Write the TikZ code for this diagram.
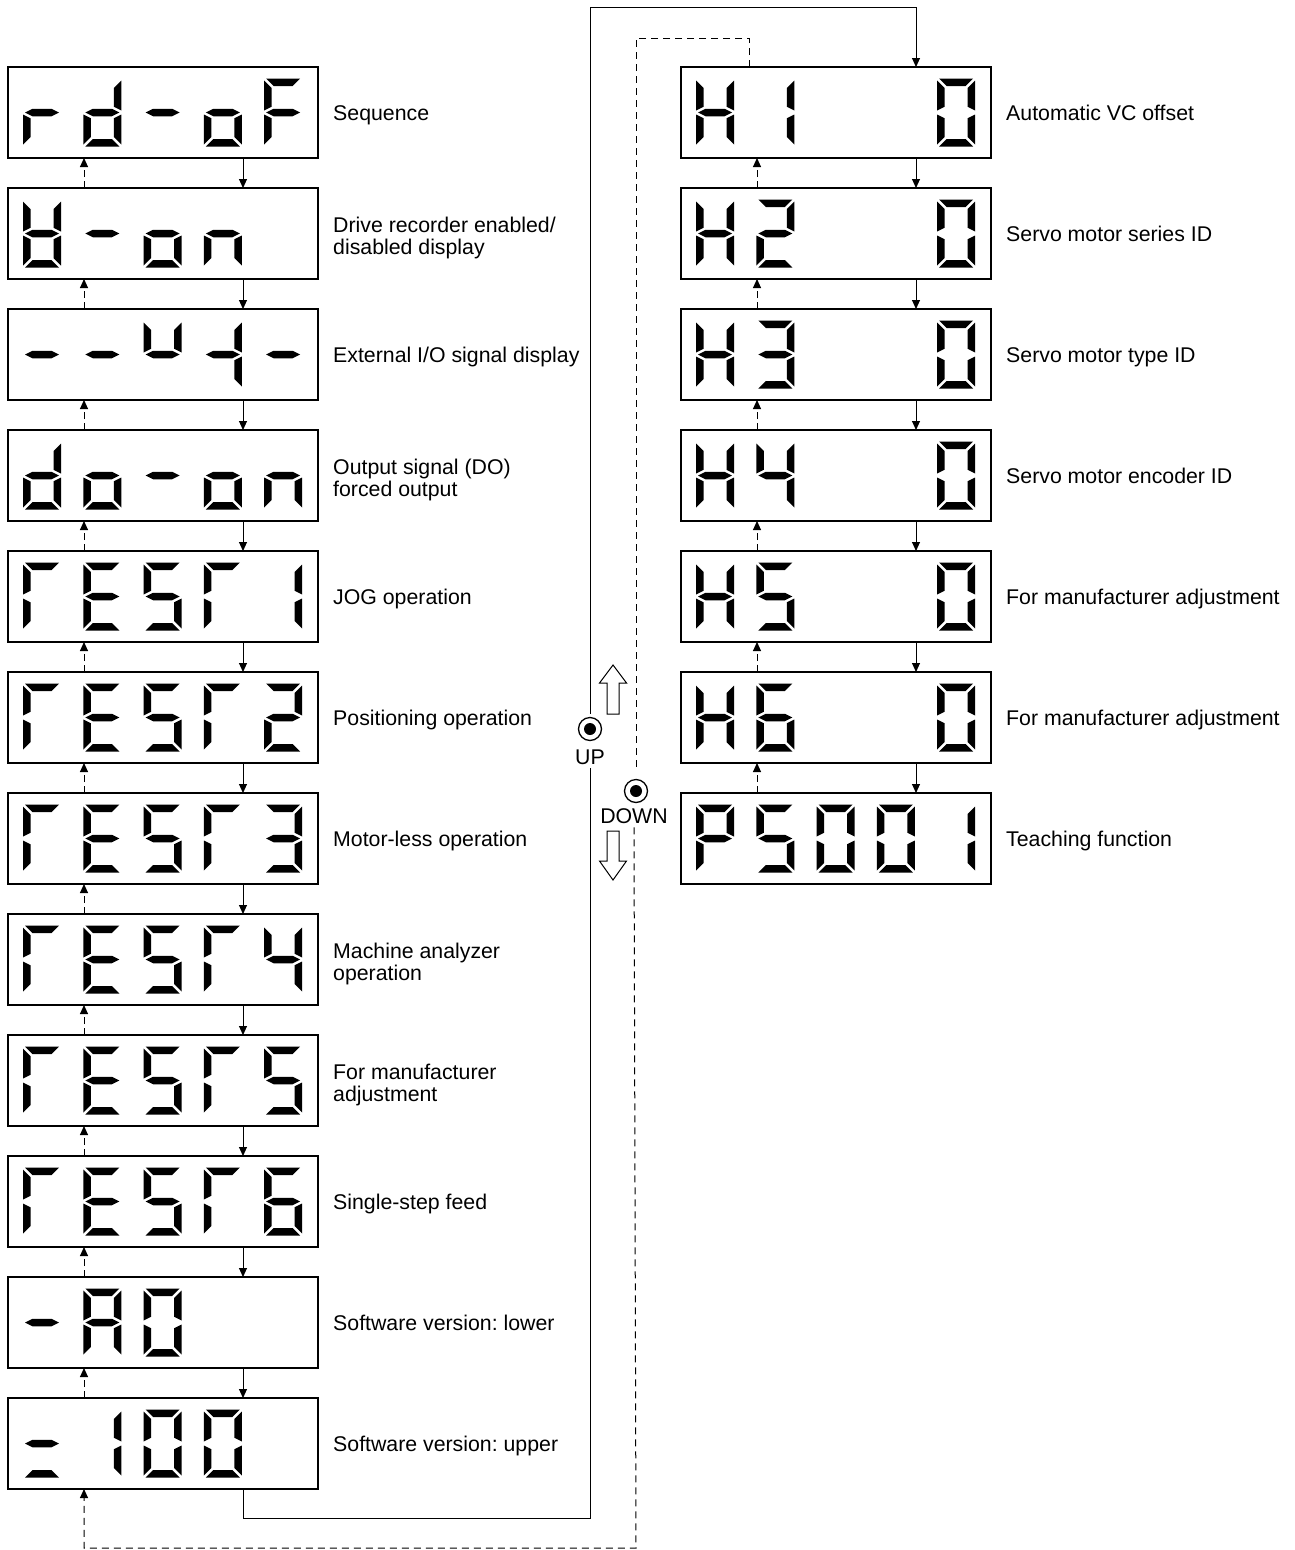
\documentclass[tikz,border=0pt]{standalone}
\usepackage{fontspec}
\setmainfont{Liberation Sans}
\frenchspacing
\usetikzlibrary{arrows.meta}
% seven-segment pieces, digit cell 38 x 68, y downwards
\newcommand{\SSa}{\fill (2,0)--(36,0)--(28.5,7.5)--(9.5,7.5)--cycle;}
\newcommand{\SSb}{\fill (38,2)--(30.5,9.5)--(30.5,28.25)--(38,32)--cycle;}
\newcommand{\SSc}{\fill (38,36)--(30.5,39.75)--(30.5,58.5)--(38,66)--cycle;}
\newcommand{\SSd}{\fill (2,68)--(36,68)--(28.5,60.5)--(9.5,60.5)--cycle;}
\newcommand{\SSe}{\fill (0,36)--(7.5,39.75)--(7.5,58.5)--(0,66)--cycle;}
\newcommand{\SSf}{\fill (0,2)--(7.5,9.5)--(7.5,28.25)--(0,32)--cycle;}
\newcommand{\SSg}{\fill (2,34)--(9.5,30.25)--(28.5,30.25)--(36,34)--(28.5,37.75)--(9.5,37.75)--cycle;}
\newcommand{\dig}[4]{\begin{scope}[shift={({#1+15+60.3*#3},{#2+11.5})}]\foreach \s in {#4}{\csname SS\s\endcsname}\end{scope}}
\begin{document}
\begin{tikzpicture}[x=1pt,y=-1pt,
 dispbox/.style={draw, line width=1.3pt, minimum width=310pt, minimum height=91pt, inner sep=0pt, outer sep=0pt},
 lbl/.style={anchor=base west, align=left, inner sep=0pt, font=\fontsize{21.3}{22.5}\selectfont},
 btnlbl/.style={inner sep=3pt, font=\fontsize{21.3}{23}\selectfont},
 dnarr/.style={line width=1pt, -{Triangle[length=9pt,width=8pt]}},
 uparr/.style={line width=1pt, dash pattern=on 7pt off 4pt, -{Triangle[length=9pt,width=8pt]}},
 longdash/.style={line width=1pt, dash pattern=on 7pt off 5pt},
 btn/.style={circle, draw, line width=1.3pt, minimum size=23pt, inner sep=0pt, outer sep=0pt},
 hollow/.style={draw, line width=1pt, fill=white}]
\useasboundingbox (0,0) rectangle (1294,1550);
% ---- left column boxes
\foreach \k in {1,...,12}{
  \node[dispbox] (L\k) at (163,{67+121*(\k-1)+45.5}) {};
}
% ---- right column boxes
\foreach \k in {1,...,7}{
  \node[dispbox] (R\k) at (836,{67+121*(\k-1)+45.5}) {};
}
% ---- left digits
% rd-oF
\dig{8}{67}{0}{e,g}\dig{8}{67}{1}{b,c,d,e,g}\dig{8}{67}{2}{g}\dig{8}{67}{3}{c,d,e,g}\dig{8}{67}{4}{a,e,f,g}
% d-on
\dig{8}{188}{0}{b,c,d,e,f,g}\dig{8}{188}{1}{g}\dig{8}{188}{2}{c,d,e,g}\dig{8}{188}{3}{c,e,g}
% --u4-
\dig{8}{309}{0}{g}\dig{8}{309}{1}{g}\dig{8}{309}{2}{b,f,g}\dig{8}{309}{3}{b,c,g}\dig{8}{309}{4}{g}
% do-on
\dig{8}{430}{0}{b,c,d,e,g}\dig{8}{430}{1}{c,d,e,g}\dig{8}{430}{2}{g}\dig{8}{430}{3}{c,d,e,g}\dig{8}{430}{4}{c,e,g}
% rESr1..6
\foreach \yy in {551,672,793,914,1035,1156}{
  \dig{8}{\yy}{0}{a,e,f}\dig{8}{\yy}{1}{a,d,e,f,g}\dig{8}{\yy}{2}{a,c,d,f,g}\dig{8}{\yy}{3}{a,e,f}
}
\dig{8}{551}{4}{b,c}
\dig{8}{672}{4}{a,b,d,e,g}
\dig{8}{793}{4}{a,b,c,d,g}
\dig{8}{914}{4}{b,c,f,g}
\dig{8}{1035}{4}{a,c,d,f,g}
\dig{8}{1156}{4}{a,c,d,e,f,g}
% -A0
\dig{8}{1277}{0}{g}\dig{8}{1277}{1}{a,b,c,e,f,g}\dig{8}{1277}{2}{a,b,c,d,e,f}
% =100
\dig{8}{1398}{0}{d,g}\dig{8}{1398}{1}{b,c}\dig{8}{1398}{2}{a,b,c,d,e,f}\dig{8}{1398}{3}{a,b,c,d,e,f}
% ---- right digits
\foreach \yy in {67,188,309,430,551,672}{
  \dig{681}{\yy}{0}{b,c,e,f,g}\dig{681}{\yy}{4}{a,b,c,d,e,f}
}
\dig{681}{67}{1}{b,c}
\dig{681}{188}{1}{a,b,d,e,g}
\dig{681}{309}{1}{a,b,c,d,g}
\dig{681}{430}{1}{b,c,f,g}
\dig{681}{551}{1}{a,c,d,f,g}
\dig{681}{672}{1}{a,c,d,e,f,g}
% P5001
\dig{681}{793}{0}{a,b,e,f,g}\dig{681}{793}{1}{a,c,d,f,g}\dig{681}{793}{2}{a,b,c,d,e,f}\dig{681}{793}{3}{a,b,c,d,e,f}\dig{681}{793}{4}{b,c}
% ---- labels (single line: baseline = centre + 8; two lines: last baseline = centre + 21)
\node[lbl] (tL1) at (333,120.5) {Sequence};
\node[lbl] (tL2) at (333,254.5) {Drive recorder enabled/\\disabled display};
\node[lbl] (tL3) at (333,362.5) {External I/O signal display};
\node[lbl] (tL4) at (333,496.5) {Output signal (DO)\\forced output};
\node[lbl] (tL5) at (333,604.5) {JOG operation};
\node[lbl] (tL6) at (333,725.5) {Positioning operation};
\node[lbl] (tL7) at (333,846.5) {Motor-less operation};
\node[lbl] (tL8) at (333,980.5) {Machine analyzer\\operation};
\node[lbl] (tL9) at (333,1101.5) {For manufacturer\\adjustment};
\node[lbl] (tL10) at (333,1209.5) {Single-step feed};
\node[lbl] (tL11) at (333,1330.5) {Software version: lower};
\node[lbl] (tL12) at (333,1451.5) {Software version: upper};
\node[lbl] (tR1) at (1006,120.5) {Automatic VC offset};
\node[lbl] (tR2) at (1006,241.5) {Servo motor series ID};
\node[lbl] (tR3) at (1006,362.5) {Servo motor type ID};
\node[lbl] (tR4) at (1006,483.5) {Servo motor encoder ID};
\node[lbl] (tR5) at (1006,604.5) {For manufacturer adjustment};
\node[lbl] (tR6) at (1006,725.5) {For manufacturer adjustment};
\node[lbl] (tR7) at (1006,846.5) {Teaching function};
% ---- step connectors
\foreach \a/\b in {L1/L2,L2/L3,L3/L4,L4/L5,L5/L6,L6/L7,L7/L8,L8/L9,L9/L10,L10/L11,L11/L12,R1/R2,R2/R3,R3/R4,R4/R5,R5/R6,R6/R7}{
  \draw[dnarr] ([xshift=80pt]\a.south) -- ([xshift=80pt]\b.north);
  \draw[uparr] ([xshift=-79pt]\b.north) -- ([xshift=-79pt]\a.south);
}
% ---- UP / DOWN buttons
\node[btn] (upb) at (590,729) {};
\fill (upb.center) circle (6);
\node[btnlbl] (uplbl) at (590,757) {UP};
\node[btn] (dnb) at (636,791) {};
\fill (dnb.center) circle (6);
\node[btnlbl] (dnlbl) at (634,816.5) {DOWN};
% hollow arrows
\draw[hollow] (613,665)--(626.5,683)--(619,683)--(619,714)--(607,714)--(607,683)--(599.5,683)--cycle;
\draw[hollow] (607,831)--(619,831)--(619,861)--(626.5,861)--(613,880)--(599.5,861)--(607,861)--cycle;
% ---- wrap-around: solid (down)
\coordinate (s1) at (243,1518);
\coordinate (s2) at (590,7);
\draw[line width=1pt] ([xshift=80pt]L12.south) -- (s1) -| (uplbl.south);
\draw[dnarr] ([yshift=4pt]upb.north) -- (s2) -| ([xshift=80pt]R1.north);
% ---- wrap-around: dashed (up)
\coordinate (d1) at (636,38);
\coordinate (d2) at (636,1548);
\draw[longdash] ([xshift=-87pt]R1.north) |- (d1) -- ([yshift=9pt]dnb.north);
\draw[longdash, -{Triangle[length=9pt,width=8pt]}] (dnlbl.south) -- (d2) -| ([xshift=-79pt]L12.south);
\end{tikzpicture}
\end{document}
